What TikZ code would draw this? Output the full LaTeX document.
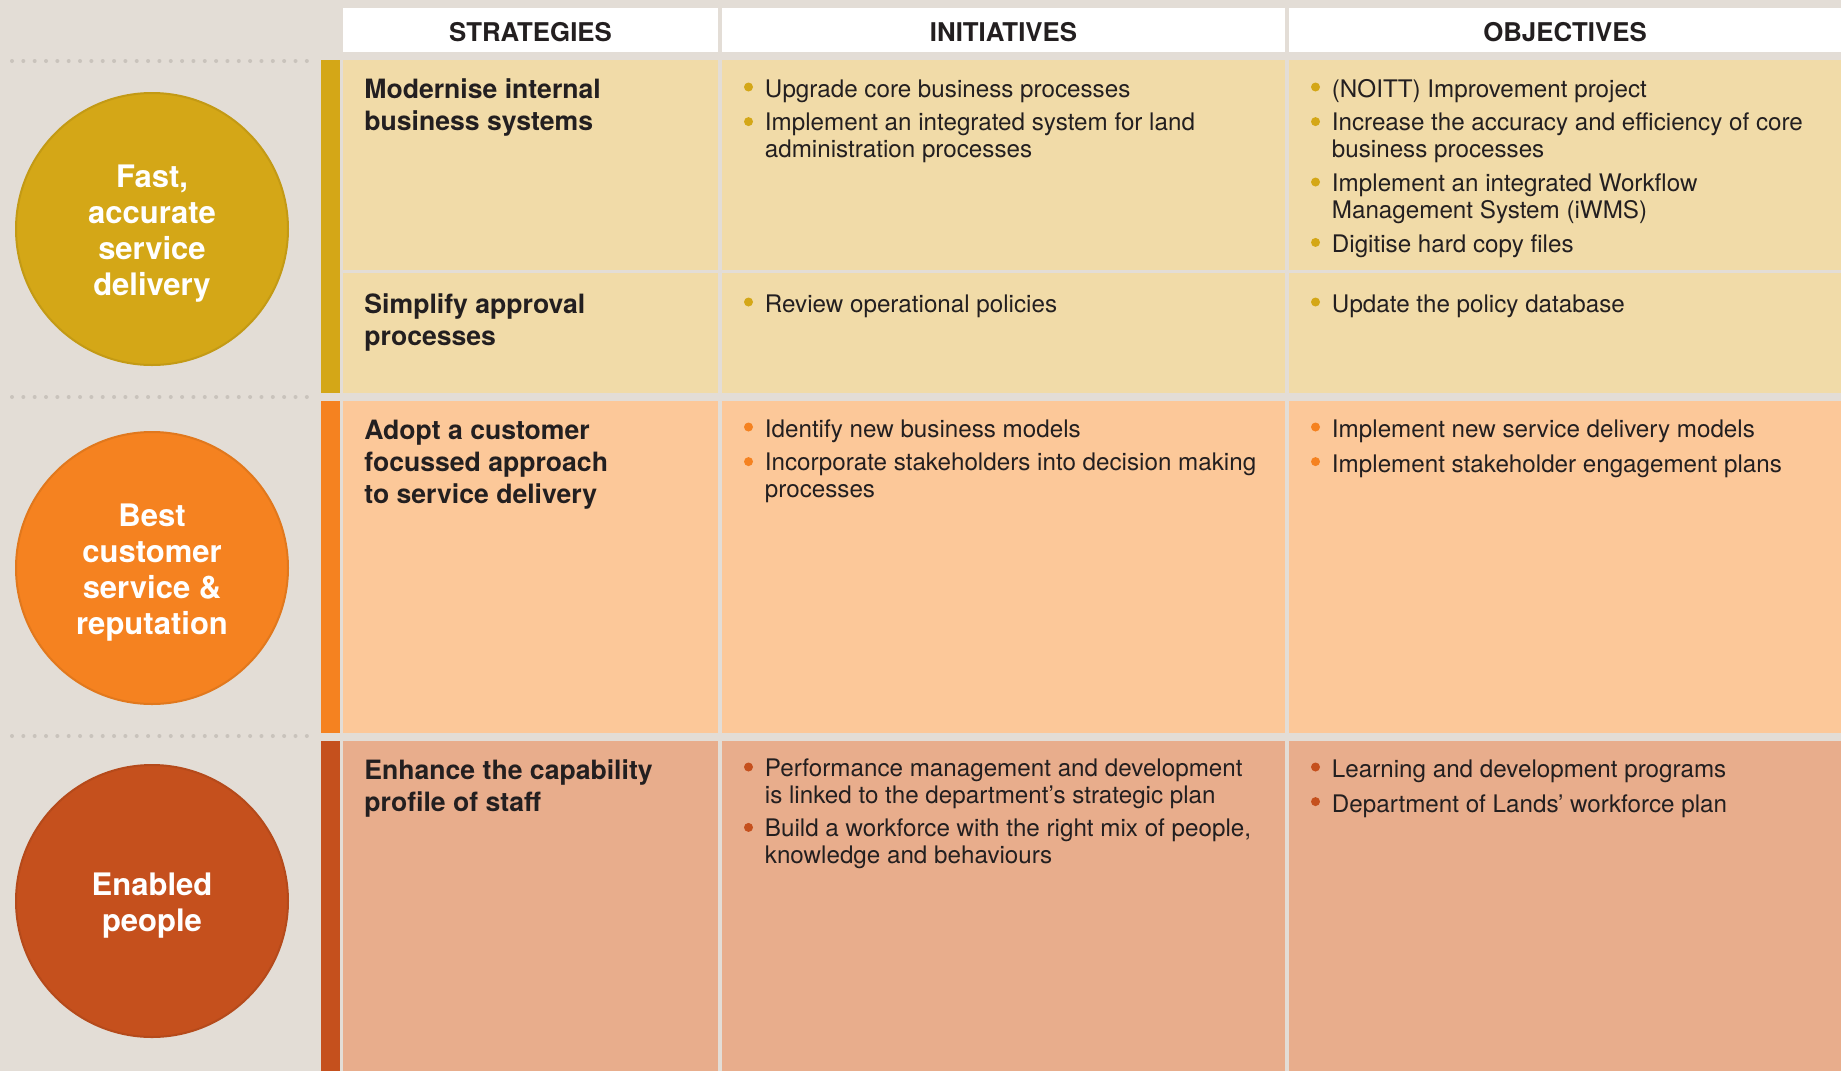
\documentclass[tikz,border=0pt]{standalone}
\usepackage{fontspec}
\setmainfont{TeX Gyre Heros}
\usetikzlibrary{positioning}

\definecolor{pagebg}{HTML}{E3DDD6}
\definecolor{ink}{HTML}{231F20}
\definecolor{dotgray}{HTML}{C9C3BC}
\definecolor{yelD}{HTML}{D4A717}
\definecolor{yelL}{HTML}{F1DBA8}
\definecolor{oraD}{HTML}{F58220}
\definecolor{oraL}{HTML}{FCC899}
\definecolor{rusD}{HTML}{C5501D}
\definecolor{rusL}{HTML}{E8AD8C}

\tikzset{
  head/.style={fill=white, inner sep=0pt, minimum height=22pt, text=ink,
    text height=11.3pt, text depth=0pt,
    font=\fontsize{12.9}{15}\bfseries\selectfont},
  goal/.style={circle, fill=#1, draw=#1!92!black, line width=1pt,
    minimum size=136pt, inner sep=0pt},
  goaltxt/.style={align=center, inner sep=0pt, text=white,
    font=\fontsize{15.5}{18}\bfseries\selectfont},
  strat/.style={anchor=north west, align=left, inner sep=0pt, text=ink,
    font=\fontsize{13.3}{16}\bfseries\selectfont,
    execute at begin node=\strut, execute at end node=\strut},
  txt/.style={anchor=north west, align=left, inner sep=0pt, text=ink,
    font=\fontsize{12.1}{13.5}\selectfont,
    execute at begin node=\strut, execute at end node=\strut},
  dot/.style={circle, inner sep=0pt, minimum size=4.5pt},
  dots/.style={dotgray, line width=2pt, line cap=round,
    dash pattern=on 0pt off 5.67pt},
  sep/.style={pagebg, line width=1.75pt}
}

% bullet in front of an item node
\newcommand{\bul}[2]{\node[dot, fill=#2] (#1b) at ([xshift=-8pt,yshift=-4.45pt]#1.north west) {};}

\begin{document}
\begin{tikzpicture}[x=0.5pt,y=-0.5pt]
  \fill[pagebg] (0,0) rectangle (1841,1071);
  \useasboundingbox (0,0) rectangle (1841,1071);

  % rows
  \fill[yelL] (343,60) rectangle (1841,393);
  \fill[oraL] (343,401) rectangle (1841,733);
  \fill[rusL] (343,741) rectangle (1841,1071);
  \fill[yelD] (321,60) rectangle (340,393);
  \fill[oraD] (321,401) rectangle (340,733);
  \fill[rusD] (321,741) rectangle (340,1071);
  \draw[sep, line width=1.5pt] (343,271.5) -- (1841,271.5);

  % headers
  \node[head, minimum width=187.5pt] (hs) at (530.5,30) {STRATEGIES};
  \node[head, minimum width=281.5pt] (hi) at (1003.5,30) {INITIATIVES};
  \node[head, minimum width=276pt] (ho) at (1565,30) {OBJECTIVES};
  \draw[sep] (720,0) -- (720,1071);
  \draw[sep] (1287,0) -- (1287,1071);

  % dotted rules
  \draw[dots] (12,61) -- (317,61);
  \draw[dots] (12,397) -- (317,397);
  \draw[dots] (12,736) -- (317,736);

  % goals
  \node[goal=yelD] (g1) at (152,229) {};
  \node[goal=oraD] (g2) at (152,568) {};
  \node[goal=rusD] (g3) at (152,901) {};
  \node[goaltxt] (g1t) at ([yshift=-2.25pt]g1.center) {Fast,\\accurate\\service\\delivery};
  \node[goaltxt] (g2t) at ([yshift=-2.25pt]g2.center) {Best\\customer\\service \&\\reputation};
  \node[goaltxt] (g3t) at ([yshift=-2.25pt]g3.center) {Enabled\\people};

  % strategies
  \node[strat] (s1) at (364,78.6) {Modernise internal\\business systems};
  \node[strat] (s2) at (364,293.6) {Simplify approval\\processes};
  \node[strat] (s3) at (364,419.6) {Adopt a customer\\focussed approach\\to service delivery};
  \node[strat] (s4) at (364,759.6) {Enhance the capability\\profile of staff};

  % row 1
  \node[txt] (a1) at (764.5,78.1) {Upgrade core business processes};
  \node[txt, below=3.4pt of a1.south west, anchor=north west] (a2)
    {Implement an integrated system for land\\administration processes};
  \node[txt] (b1) at (1331.5,78.1) {(NOITT) Improvement project};
  \node[txt, below=3.4pt of b1.south west, anchor=north west] (b2)
    {Increase the accuracy and efficiency of core\\business processes};
  \node[txt, below=3.4pt of b2.south west, anchor=north west] (b3)
    {Implement an integrated Workflow\\Management System (iWMS)};
  \node[txt, below=3.4pt of b3.south west, anchor=north west] (b4)
    {Digitise hard copy files};
  \node[txt] (c1) at (764.5,293.1) {Review operational policies};
  \node[txt] (d1) at (1331.5,293.1) {Update the policy database};
  \bul{a1}{yelD} \bul{a2}{yelD}
  \bul{b1}{yelD} \bul{b2}{yelD} \bul{b3}{yelD} \bul{b4}{yelD}
  \bul{c1}{yelD} \bul{d1}{yelD}

  % row 2
  \node[txt] (e1) at (764.5,418.1) {Identify new business models};
  \node[txt, below=3.4pt of e1.south west, anchor=north west] (e2)
    {Incorporate stakeholders into decision making\\processes};
  \node[txt] (f1) at (1331.5,418.1) {Implement new service delivery models};
  \node[txt, below=3.4pt of f1.south west, anchor=north west] (f2)
    {Implement stakeholder engagement plans};
  \bul{e1}{oraD} \bul{e2}{oraD} \bul{f1}{oraD} \bul{f2}{oraD}

  % row 3
  \node[txt] (h1) at (764.5,758.1)
    {Performance management and development\\is linked to the department’s strategic plan};
  \node[txt, below=3.4pt of h1.south west, anchor=north west] (h2)
    {Build a workforce with the right mix of people,\\knowledge and behaviours};
  \node[txt] (k1) at (1331.5,758.1) {Learning and development programs};
  \node[txt, below=3.4pt of k1.south west, anchor=north west] (k2)
    {Department of Lands’ workforce plan};
  \bul{h1}{rusD} \bul{h2}{rusD} \bul{k1}{rusD} \bul{k2}{rusD}
\end{tikzpicture}
\end{document}
